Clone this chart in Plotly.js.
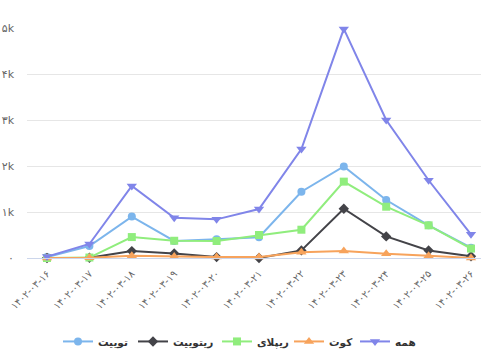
<!DOCTYPE html>
<html><head><meta charset="utf-8">
<script src="https://cdn.plot.ly/plotly-3.0.1.min.js"></script>
<style>html,body{margin:0;padding:0;background:#fff}#c{width:481px;height:352px}</style>
</head><body><div id="c"></div>
<script>
const categories = ["۱۴۰۲-۰۳-۱۶","۱۴۰۲-۰۳-۱۷","۱۴۰۲-۰۳-۱۸","۱۴۰۲-۰۳-۱۹","۱۴۰۲-۰۳-۲۰","۱۴۰۲-۰۳-۲۱","۱۴۰۲-۰۳-۲۲","۱۴۰۲-۰۳-۲۳","۱۴۰۲-۰۳-۲۴","۱۴۰۲-۰۳-۲۵","۱۴۰۲-۰۳-۲۶"];
const tweet   = [20, 260, 900, 370, 405, 450, 1440, 1990, 1260, 710, 225];
const retweet = [0, 5, 150, 100, 20, 0, 165, 1070, 470, 165, 37];
const reply   = [0, 10, 455, 375, 370, 500, 615, 1660, 1115, 710, 205];
const quote   = [0, 5, 50, 30, 20, 20, 125, 150, 90, 50, 0];
const all     = [30, 305, 1565, 875, 840, 1065, 2370, 4980, 3000, 1690, 515];
const yTickVals = [0, 1000, 2000, 3000, 4000, 5000];
const yTickText = ["۰", "۱k", "۲k", "۳k", "۴k", "۵k"];

const xi = categories.map((_, i) => i);
function tr(name, y, color, symbol, size, lg) {
  return {type:'scatter', mode:'lines+markers', name, x: xi, y, legend: lg,
    line:{color, width:2}, marker:{color, symbol, size}, cliponaxis:false};
}
const data = [
  tr("توییت", tweet, "#7cb5ec", "circle", 8, 'legend'),
  tr("ریتوییت", retweet, "#434348", "diamond", 8, 'legend2'),
  tr("ریپلای", reply, "#90ed7d", "square", 8, 'legend3'),
  tr("کوت", quote, "#f7a35c", "triangle-up", 9, 'legend4'),
  tr("همه", all, "#8085e9", "triangle-down", 9, 'legend5')
];
const textStarts = [98, 173, 257, 329, 395];
function lg(px) {
  return {orientation:'h', xref:'container', x:(px - 40)/481, xanchor:'left',
    yref:'container', y:0.03, yanchor:'middle', itemwidth:30,
    font:{size:10.5, color:'#333', weight:'bold'}, itemclick:false, bgcolor:'rgba(0,0,0,0)'};
}
const layout = {
  width:481, height:352,
  margin:{l:27, r:0, t:28, b:94},
  paper_bgcolor:'#fff', plot_bgcolor:'#fff',
  font:{family:'"DejaVu Sans", sans-serif', color:'#666'},
  showlegend:true,
  legend:lg(textStarts[0]), legend2:lg(textStarts[1]), legend3:lg(textStarts[2]),
  legend4:lg(textStarts[3]), legend5:lg(textStarts[4]),
  xaxis:{range:[-0.472, 10.236], tickvals:xi, ticktext:categories, tickangle:-45,
    tickfont:{size:10, color:'#666'}, showgrid:false, zeroline:false, automargin:false,
    showline:true, linecolor:'#ccd6eb', linewidth:1, ticks:'', ticklabelstandoff:5, fixedrange:true},
  yaxis:{range:[0,5000], tickvals:yTickVals, ticktext:yTickText, automargin:false,
    tickfont:{size:11, color:'#666'}, gridcolor:'#e6e6e6', gridwidth:1,
    zeroline:false, showline:false, ticks:'', ticklabelstandoff:12, fixedrange:true}
};
Plotly.newPlot('c', data, layout, {displayModeBar:false, staticPlot:true});
</script></body></html>
